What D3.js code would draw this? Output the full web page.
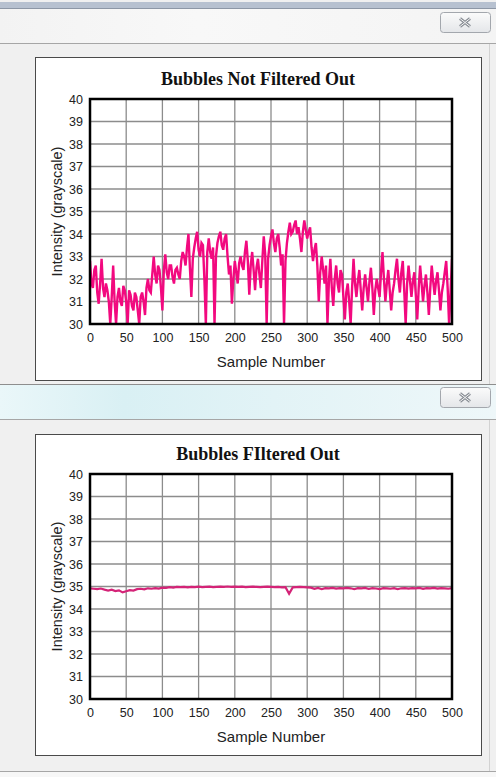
<!DOCTYPE html>
<html>
<head>
<meta charset="utf-8">
<script src="https://cdn.jsdelivr.net/npm/d3@7"></script>
<style>
  html, body { margin: 0; padding: 0; background: #fff; }
  svg { display: block; }
</style>
</head>
<body>
<svg id="chart" width="496" height="777"></svg>
<script>
// ---------- DATA ----------
const chartTitles = ["Bubbles Not Filtered Out", "Bubbles FIltered Out"];
const xAxisTitle = "Sample Number";
const yAxisTitle = "Intensity (grayscale)";
const xTicks = [0, 50, 100, 150, 200, 250, 300, 350, 400, 450, 500];
const yTicks = [30, 31, 32, 33, 34, 35, 36, 37, 38, 39, 40];

// Unfiltered intensity, one reading every 2 samples (0..500)
const notFilteredStep = 2;
const notFilteredValues = [
  32.8, 31.8, 31.6, 32.4, 32.6, 31.4, 30.9, 31.8, 32.9, 31.6,
  31.2, 31.8, 31.5, 31.0, 30.0, 31.2, 32.6, 31.0, 30.0, 31.2,
  31.6, 31.0, 30.8, 31.7, 31.5, 31.0, 30.0, 31.5, 31.3, 30.8,
  30.6, 31.4, 31.2, 30.6, 30.0, 31.2, 31.4, 31.0, 30.4, 31.6,
  32.0, 31.5, 31.4, 32.2, 33.0, 32.2, 31.8, 32.6, 32.4, 31.6,
  30.6, 32.4, 33.1, 32.3, 32.0, 32.6, 32.6, 32.1, 31.8, 32.4,
  32.5, 32.2, 32.0, 32.8, 33.2, 33.0, 32.6, 33.4, 34.0, 32.5,
  31.2, 32.9, 33.4, 33.8, 34.1, 33.3, 33.0, 33.6, 33.5, 32.0,
  30.0, 33.2, 33.8, 33.2, 32.9, 33.4, 30.0, 33.0, 33.6, 33.9,
  34.1, 33.5, 33.3, 33.8, 34.0, 33.0, 32.2, 32.6, 30.9, 32.0,
  32.8, 32.3, 31.8, 32.7, 33.0, 32.6, 32.4, 33.2, 33.7, 32.8,
  31.3, 32.6, 33.2, 32.4, 31.5, 32.5, 32.9, 32.2, 31.6, 32.8,
  33.9, 33.1, 30.0, 32.9, 33.5, 33.9, 34.2, 33.6, 33.2, 33.8,
  34.0, 33.4, 32.6, 33.1, 30.0, 32.8, 33.6, 34.1, 34.5, 34.0,
  34.1, 34.4, 34.6, 34.0, 34.3, 33.8, 33.2, 34.1, 34.6, 34.2,
  33.8, 34.1, 34.3, 33.4, 32.8, 33.3, 33.6, 32.6, 31.0, 32.3,
  33.0, 32.4, 31.8, 32.6, 30.0, 31.9, 32.9, 31.6, 30.8, 32.0,
  32.6, 31.8, 31.4, 32.4, 32.2, 31.2, 30.2, 31.4, 31.8, 31.0,
  30.0, 31.6, 32.9, 31.8, 31.2, 31.9, 32.4, 31.5, 30.6, 31.6,
  32.2, 31.6, 31.0, 31.9, 32.5, 31.6, 30.4, 31.5, 32.0, 31.6,
  31.2, 32.3, 33.2, 32.0, 31.0, 31.8, 32.4, 31.5, 30.6, 31.4,
  31.8, 32.4, 32.9, 32.0, 31.4, 32.3, 32.8, 31.5, 30.0, 31.8,
  32.6, 31.9, 31.2, 31.9, 32.3, 31.3, 30.2, 31.6, 32.6, 31.8,
  31.0, 31.7, 32.2, 31.4, 30.4, 31.6, 32.6, 31.9, 31.3, 31.9,
  32.3, 31.5, 30.6, 31.4, 31.8, 32.3, 32.8, 31.6, 30.0, 31.4,
  32.9
];

// Filtered intensity, one reading every 5 samples (0..500)
const filteredStep = 5;
const filteredValues = [
  34.92, 34.90, 34.88, 34.91, 34.86, 34.82, 34.86, 34.80, 34.83, 34.74,
  34.79, 34.84, 34.82, 34.88, 34.90, 34.87, 34.92, 34.90, 34.93, 34.91,
  34.95, 34.94, 34.97, 34.95, 34.98, 34.97, 34.98, 34.96, 34.98, 34.97,
  34.99, 34.97, 34.98, 34.99, 34.97, 34.98, 34.99, 34.98, 35.00, 34.98,
  34.99, 34.98, 34.99, 34.97, 34.98, 34.99, 34.98, 34.97, 34.98, 34.99,
  34.98, 34.97, 34.98, 34.96, 34.97, 34.68, 34.96, 34.97, 34.98, 34.97,
  34.96, 34.95, 34.90, 34.94, 34.88, 34.93, 34.92, 34.94, 34.91, 34.93,
  34.92, 34.94, 34.92, 34.88, 34.93, 34.92, 34.94, 34.89, 34.93, 34.91,
  34.88, 34.93, 34.92, 34.90, 34.93, 34.88, 34.92, 34.93, 34.91, 34.93,
  34.92, 34.94, 34.90, 34.93, 34.92, 34.94, 34.91, 34.93, 34.92, 34.90,
  34.93
];

// ---------- DRAWING ----------
const svg = d3.select("#chart");
const defs = svg.append("defs");

const btnGrad = defs.append("linearGradient").attr("id", "btnGrad").attr("x1", 0).attr("y1", 0).attr("x2", 0).attr("y2", 1);
btnGrad.append("stop").attr("offset", "0%").attr("stop-color", "#fbfbfb");
btnGrad.append("stop").attr("offset", "100%").attr("stop-color", "#e4e6e9");

const bar1Grad = defs.append("linearGradient").attr("id", "bar1Grad").attr("x1", 0).attr("y1", 0).attr("x2", 1).attr("y2", 0);
bar1Grad.append("stop").attr("offset", "0%").attr("stop-color", "#f3f3f3");
bar1Grad.append("stop").attr("offset", "40%").attr("stop-color", "#f8f8f8");
bar1Grad.append("stop").attr("offset", "100%").attr("stop-color", "#f4f4f4");

const bar2Grad = defs.append("linearGradient").attr("id", "bar2Grad").attr("x1", 0).attr("y1", 0).attr("x2", 1).attr("y2", 0);
bar2Grad.append("stop").attr("offset", "0%").attr("stop-color", "#eaf7f9");
bar2Grad.append("stop").attr("offset", "25%").attr("stop-color", "#d9f0f4");
bar2Grad.append("stop").attr("offset", "55%").attr("stop-color", "#e2f3f6");
bar2Grad.append("stop").attr("offset", "100%").attr("stop-color", "#eef7f9");

function drawCloseButton(x, y) {
  const g = svg.append("g").attr("transform", `translate(${x},${y})`);
  g.append("rect").attr("x", 0.5).attr("y", 0.5).attr("width", 50).attr("height", 20).attr("rx", 3)
    .attr("fill", "url(#btnGrad)").attr("stroke", "#a3a7ad");
  const cx = 25, cy = 10.5;
  g.append("path")
    .attr("d", `M${cx-5},${cy-4} L${cx+5},${cy+4} M${cx+5},${cy-4} L${cx-5},${cy+4}`)
    .attr("stroke", "#8a8f96").attr("stroke-width", 3).attr("fill", "none");
  g.append("path")
    .attr("d", `M${cx-5},${cy-4} L${cx+5},${cy+4} M${cx+5},${cy-4} L${cx-5},${cy+4}`)
    .attr("stroke", "#f4f4f4").attr("stroke-width", 1).attr("fill", "none");
}

// window chrome 1
svg.append("rect").attr("x", 0).attr("y", 0).attr("width", 496).attr("height", 777).attr("fill", "#f0f0f0");
svg.append("rect").attr("x", 0).attr("y", 2).attr("width", 496).attr("height", 6).attr("fill", "#b7c1d0");
svg.append("line").attr("x1", 0).attr("x2", 496).attr("y1", 8.5).attr("y2", 8.5).attr("stroke", "#8d97a6");
svg.append("rect").attr("x", 0).attr("y", 9).attr("width", 496).attr("height", 34).attr("fill", "url(#bar1Grad)");
svg.append("line").attr("x1", 0).attr("x2", 496).attr("y1", 43.5).attr("y2", 43.5).attr("stroke", "#a6a6a6");
drawCloseButton(440, 12);

// window chrome 2
svg.append("line").attr("x1", 0).attr("x2", 496).attr("y1", 384.5).attr("y2", 384.5).attr("stroke", "#8e8e8e");
svg.append("rect").attr("x", 0).attr("y", 385).attr("width", 496).attr("height", 34).attr("fill", "url(#bar2Grad)");
svg.append("line").attr("x1", 0).attr("x2", 496).attr("y1", 419.5).attr("y2", 419.5).attr("stroke", "#a6a6a6");
drawCloseButton(440, 387);
svg.append("line").attr("x1", 0).attr("x2", 496).attr("y1", 771.5).attr("y2", 771.5).attr("stroke", "#a6a6a6");
svg.append("rect").attr("x", 0).attr("y", 772).attr("width", 496).attr("height", 5).attr("fill", "#f7f7f7");
svg.append("line").attr("x1", 489.5).attr("x2", 489.5).attr("y1", 44).attr("y2", 384).attr("stroke", "#d2d2d2");
svg.append("line").attr("x1", 489.5).attr("x2", 489.5).attr("y1", 420).attr("y2", 771).attr("stroke", "#d2d2d2");

function drawChart(opts) {
  const { boxTop, boxH, plotTop, title, values, step, color, width } = opts;
  svg.append("rect").attr("x", 35.5).attr("y", boxTop + 0.5).attr("width", 446).attr("height", boxH)
    .attr("fill", "#fff").attr("stroke", "#4a4a4a").attr("stroke-width", 1);

  const left = 90, right = 452, top = plotTop, bottom = plotTop + 225;
  const x = d3.scaleLinear().domain([0, 500]).range([left, right]);
  const y = d3.scaleLinear().domain([30, 40]).range([bottom, top]);

  const g = svg.append("g");
  g.selectAll(".vg").data(xTicks).join("line")
    .attr("x1", d => x(d)).attr("x2", d => x(d)).attr("y1", top).attr("y2", bottom)
    .attr("stroke", "#8c8c8c").attr("stroke-width", 1.3);
  g.selectAll(".hg").data(yTicks).join("line")
    .attr("x1", left).attr("x2", right).attr("y1", d => y(d)).attr("y2", d => y(d))
    .attr("stroke", "#8c8c8c").attr("stroke-width", 1.3);

  const clipId = "clip" + plotTop;
  defs.append("clipPath").attr("id", clipId).append("rect")
    .attr("x", left).attr("y", top).attr("width", right - left).attr("height", bottom - top);
  const line = d3.line().x((d, i) => x(i * step)).y(d => y(d));
  g.append("path").datum(values).attr("d", line).attr("fill", "none")
    .attr("stroke", color).attr("stroke-width", width).attr("stroke-linejoin", "miter")
    .attr("clip-path", `url(#${clipId})`);

  g.append("rect").attr("x", left).attr("y", top).attr("width", right - left).attr("height", bottom - top)
    .attr("fill", "none").attr("stroke", "#000").attr("stroke-width", 2.5);

  const xAxis = d3.axisBottom(x).tickValues(xTicks).tickSize(0).tickPadding(9).tickFormat(d3.format("d"));
  const yAxis = d3.axisLeft(y).tickValues(yTicks).tickSize(0).tickPadding(7).tickFormat(d3.format("d"));
  const gx = g.append("g").attr("transform", `translate(0,${bottom})`).call(xAxis);
  const gy = g.append("g").attr("transform", `translate(${left},0)`).call(yAxis);
  [gx, gy].forEach(a => {
    a.select(".domain").remove();
    a.selectAll("text").attr("font-family", "'Liberation Sans', Arial, sans-serif")
      .attr("font-size", 12.5).attr("fill", "#222");
  });

  svg.append("text").attr("x", 258).attr("y", top - 14).attr("text-anchor", "middle")
    .attr("font-family", "'Liberation Serif', 'Times New Roman', serif").attr("font-weight", "bold")
    .attr("font-size", 18).attr("fill", "#111").text(title);
  svg.append("text").attr("x", (left + right) / 2).attr("y", bottom + 43).attr("text-anchor", "middle")
    .attr("font-family", "'Liberation Sans', Arial, sans-serif").attr("font-size", 15).attr("fill", "#222")
    .text(xAxisTitle);
  svg.append("text").attr("transform", `translate(62,${(top + bottom) / 2}) rotate(-90)`)
    .attr("text-anchor", "middle")
    .attr("font-family", "'Liberation Sans', Arial, sans-serif").attr("font-size", 14.5).attr("fill", "#222")
    .text(yAxisTitle);
}

drawChart({ boxTop: 57, boxH: 323, plotTop: 99, title: chartTitles[0],
  values: notFilteredValues, step: notFilteredStep, color: "#f2097f", width: 2.4 });
drawChart({ boxTop: 434, boxH: 321, plotTop: 474, title: chartTitles[1],
  values: filteredValues, step: filteredStep, color: "#d42377", width: 2.2 });
</script>
</body>
</html>
